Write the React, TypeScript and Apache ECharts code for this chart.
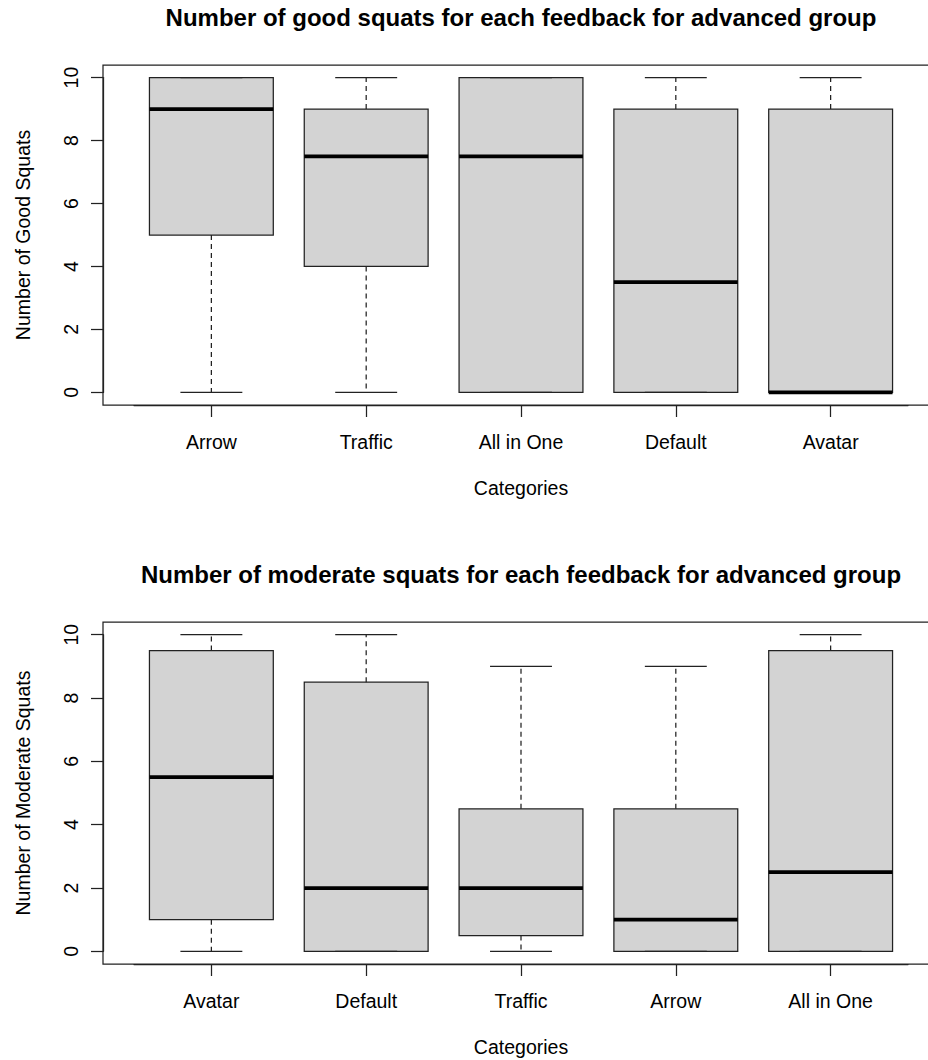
import React, { useEffect, useRef } from "react";
import * as echarts from "echarts";

// ---- Data ----
const goodCategories = ["Arrow", "Traffic", "All in One", "Default", "Avatar"];
// five-number summaries: [min, Q1, median, Q3, max]
const goodBoxes = [
  [0, 5, 9, 10, 10],
  [0, 4, 7.5, 9, 10],
  [0, 0, 7.5, 10, 10],
  [0, 0, 3.5, 9, 10],
  [0, 0, 0, 9, 10],
];

const moderateCategories = ["Avatar", "Default", "Traffic", "Arrow", "All in One"];
const moderateBoxes = [
  [0, 1, 5.5, 9.5, 10],
  [0, 0, 2, 8.5, 10],
  [0, 0.5, 2, 4.5, 9],
  [0, 0, 1, 4.5, 9],
  [0, 0, 2.5, 9.5, 10],
];

const yMin = 0;
const yMax = 10;
const yInterval = 2;

const goodTitle = "Number of good squats for each feedback for advanced group";
const moderateTitle = "Number of moderate squats for each feedback for advanced group";
const goodYName = "Number of Good Squats";
const moderateYName = "Number of Moderate Squats";
const xName = "Categories";

// ---- Layout ----
const FONT = "'Liberation Sans', Arial, Helvetica, sans-serif";
const LABEL_SIZE = 19.5;
const TITLE_SIZE = 24;
const FRAME_LEFT = 103;
const FRAME_RIGHT = 939;
const UNIT_X = (FRAME_RIGHT - FRAME_LEFT) / 5.4;
const GRID_LEFT = FRAME_LEFT + 0.2 * UNIT_X;
const GRID_WIDTH = 5 * UNIT_X;

const panels = [
  { frameTop: 65, frameBottom: 405, categories: goodCategories, boxes: goodBoxes, title: goodTitle, yName: goodYName },
  { frameTop: 622, frameBottom: 964, categories: moderateCategories, boxes: moderateBoxes, title: moderateTitle, yName: moderateYName },
];

const renderBox = (params: any, api: any) => {
  const idx = api.value(0);
  const lo = api.coord([idx, api.value(1)]);
  const q1 = api.coord([idx, api.value(2)]);
  const md = api.coord([idx, api.value(3)]);
  const q3 = api.coord([idx, api.value(4)]);
  const hi = api.coord([idx, api.value(5)]);
  const band = api.size([1, 0])[0];
  const bw = band * 0.8;
  const sw = bw * 0.5;
  const cx = lo[0];
  const thin = { stroke: "#222", lineWidth: 1.25, fill: null };
  const dashed = { ...thin, lineDash: [5, 4] };
  const children: any[] = [
    {
      type: "rect",
      shape: { x: cx - bw / 2, y: q3[1], width: bw, height: q1[1] - q3[1] },
      style: { fill: "#D3D3D3", stroke: "#222", lineWidth: 1.25 },
    },
  ];
  if (hi[1] < q3[1]) {
    children.push({ type: "line", shape: { x1: cx, y1: q3[1], x2: cx, y2: hi[1] }, style: dashed });
  }
  if (lo[1] > q1[1]) {
    children.push({ type: "line", shape: { x1: cx, y1: q1[1], x2: cx, y2: lo[1] }, style: dashed });
  }
  children.push(
    { type: "line", shape: { x1: cx - sw / 2, y1: hi[1], x2: cx + sw / 2, y2: hi[1] }, style: thin },
    { type: "line", shape: { x1: cx - sw / 2, y1: lo[1], x2: cx + sw / 2, y2: lo[1] }, style: thin },
    {
      type: "line",
      shape: { x1: cx - bw / 2, y1: md[1], x2: cx + bw / 2, y2: md[1] },
      style: { stroke: "#000", lineWidth: 3.75 },
    }
  );
  return { type: "group", children };
};

export default function App() {
  const ref = useRef<HTMLDivElement>(null);

  useEffect(() => {
    if (!ref.current) return;
    const chart = echarts.init(ref.current, null, { renderer: "svg" });

    const grids: any[] = [];
    const xAxes: any[] = [];
    const yAxes: any[] = [];
    const series: any[] = [];
    const graphics: any[] = [];

    panels.forEach((p, i) => {
      const h = p.frameBottom - p.frameTop;
      const unitY = h / 10.8;
      const gridTop = p.frameTop + 0.4 * unitY;
      const gridHeight = 10 * unitY;
      grids.push({ left: GRID_LEFT, top: gridTop, width: GRID_WIDTH, height: gridHeight, containLabel: false });
      xAxes.push({
        type: "category",
        gridIndex: i,
        data: p.categories,
        boundaryGap: true,
        position: "bottom",
        offset: 0.4 * unitY,
        axisLine: { show: true, onZero: false, lineStyle: { color: "#222", width: 1.25 } },
        axisTick: { show: true, alignWithLabel: true, length: 12, lineStyle: { color: "#222", width: 1.25 } },
        axisLabel: { interval: 0, color: "#000", fontFamily: FONT, fontSize: LABEL_SIZE, margin: 27 },
        name: xName,
        nameLocation: "middle",
        nameGap: 73,
        nameTextStyle: { color: "#000", fontFamily: FONT, fontSize: LABEL_SIZE },
        splitLine: { show: false },
      });
      yAxes.push({
        type: "value",
        gridIndex: i,
        min: yMin,
        max: yMax,
        interval: yInterval,
        offset: GRID_LEFT - FRAME_LEFT,
        axisLine: { show: true, onZero: false, lineStyle: { color: "#222", width: 1.25 } },
        axisTick: { show: true, length: 12, lineStyle: { color: "#222", width: 1.25 } },
        axisLabel: { rotate: 90, color: "#000", fontFamily: FONT, fontSize: LABEL_SIZE, margin: 22 },
        name: p.yName,
        nameLocation: "middle",
        nameGap: 70,
        nameTextStyle: { color: "#000", fontFamily: FONT, fontSize: LABEL_SIZE },
        splitLine: { show: false },
      });
      series.push({
        type: "custom",
        xAxisIndex: i,
        yAxisIndex: i,
        clip: false,
        renderItem: renderBox,
        encode: { x: 0, y: [1, 2, 3, 4, 5] },
        data: p.boxes.map((b, j) => [j, ...b]),
      });
      graphics.push({
        type: "rect",
        shape: { x: FRAME_LEFT, y: p.frameTop, width: FRAME_RIGHT - FRAME_LEFT, height: h },
        style: { fill: null, stroke: "#222", lineWidth: 1.25 },
        silent: true,
      });
      graphics.push({
        type: "text",
        x: (FRAME_LEFT + FRAME_RIGHT) / 2,
        y: p.frameTop - 48,
        style: {
          text: p.title,
          textAlign: "center",
          textVerticalAlign: "middle",
          fill: "#000",
          font: `bold ${TITLE_SIZE}px ${FONT}`,
        },
      });
    });

    chart.setOption({
      animation: false,
      backgroundColor: "#fff",
      grid: grids,
      xAxis: xAxes,
      yAxis: yAxes,
      series,
      graphic: graphics,
    });

    return () => chart.dispose();
  }, []);

  return (
    <div
      ref={ref}
      style={{ position: "absolute", left: 0, top: 0, width: 928, height: 1060, background: "#fff" }}
    />
  );
}
